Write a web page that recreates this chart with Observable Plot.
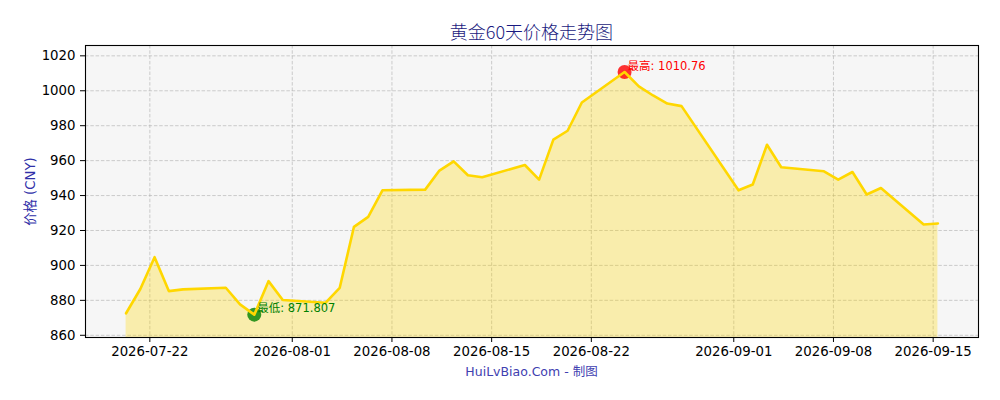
<!DOCTYPE html>
<html><head><meta charset="utf-8">
<script src="https://cdn.jsdelivr.net/npm/d3@7"></script>
<script src="https://cdn.jsdelivr.net/npm/@observablehq/plot@0.6"></script>
<style>
body{margin:0;background:#fff;font-family:"DejaVu Sans","Noto Sans CJK SC",sans-serif;}
#wrap{width:1000px;}
#title{height:40px;box-sizing:border-box;padding-top:19px;line-height:24px;margin-left:85px;width:893px;text-align:center;font-family:"Noto Sans CJK SC",sans-serif;font-size:18px;font-weight:300;color:#1a1a80;white-space:nowrap;}
#caption{height:20px;line-height:20px;margin-left:85px;width:893px;text-align:center;font-size:12.5px;color:#4040b0;font-family:"DejaVu Sans","Noto Sans CJK SC",sans-serif;white-space:nowrap;}
[aria-label="y-axis label"] text{fill:#3030a8;}
</style></head><body>
<div id="wrap"><div id="title">黄金60天价格走势图</div><div id="chart"></div><div id="caption">HuiLvBiao.Com - 制图</div></div>
<script>
const dates = ["2026-07-20","2026-07-21","2026-07-22","2026-07-23","2026-07-24","2026-07-27","2026-07-28","2026-07-29","2026-07-30","2026-07-31",
"2026-08-03","2026-08-04","2026-08-05","2026-08-06","2026-08-07","2026-08-10","2026-08-11","2026-08-12","2026-08-13","2026-08-14",
"2026-08-17","2026-08-18","2026-08-19","2026-08-20","2026-08-21","2026-08-24","2026-08-25","2026-08-26","2026-08-27","2026-08-28",
"2026-09-01","2026-09-02","2026-09-03","2026-09-04","2026-09-07","2026-09-08","2026-09-09","2026-09-10","2026-09-11","2026-09-14","2026-09-15"];
const prices = [872.6,886.5,904.7,885.3,886.3,887.2,877.7,871.807,891.0,880.2,
878.6,887.2,922.1,927.8,943.0,943.4,954.3,959.6,951.6,950.5,
957.5,949.1,972.0,977.1,993.3,1010.76,1002.5,997.3,992.7,991.2,
943.0,946.3,969.1,956.2,953.9,949.1,953.5,940.6,944.3,923.4,924.0];
const xTickLabels = ["2026-07-22","2026-08-01","2026-08-08","2026-08-15","2026-08-22","2026-09-01","2026-09-08","2026-09-15"];
const yTicks = [860,880,900,920,940,960,980,1000,1020];
const yLabel = "价格 (CNY)";
const maxPrefix = "最高: ";
const minPrefix = "最低: ";

const data = dates.map((d,i)=>({date:new Date(d+"T08:00:00Z"), price:prices[i]}));
const xTicks = xTickLabels.map(s=>new Date(s+"T00:00:00Z"));
const t0 = data[0].date.getTime(), t1 = data[data.length-1].date.getTime();
const pad = 0.05*(t1-t0);
const xDomain = [new Date(t0-pad), new Date(t1+pad)];
const maxPt = data.reduce((a,b)=>b.price>a.price?b:a);
const minPt = data.reduce((a,b)=>b.price<a.price?b:a);
const yDomain = [minPt.price*0.985, maxPt.price*1.015];
const labelFont = "DejaVu Sans, Noto Sans CJK SC, sans-serif";
const gridStyle = {stroke:"#a8a8a8", strokeOpacity:0.7, strokeWidth:0.8, strokeDasharray:"3.5,1.8"};

const chart = Plot.plot({
  width:1000, height:322,
  marginTop:5, marginBottom:25, marginLeft:85, marginRight:22,
  style:{fontFamily:labelFont, fontSize:"13.3px", color:"black", background:"white", overflow:"visible"},
  x:{type:"utc", domain:xDomain},
  y:{domain:yDomain},
  marks:[
    Plot.frame({fill:"#f6f6f6"}),
    Plot.gridX(xTicks, gridStyle),
    Plot.gridY(yTicks, gridStyle),
    Plot.areaY(data,{x:"date", y1:yDomain[0], y2:"price", fill:"#FFD700", fillOpacity:0.3}),
    Plot.dot([maxPt],{x:"date", y:"price", r:7, fill:"red", fillOpacity:0.8}),
    Plot.dot([minPt],{x:"date", y:"price", r:7, fill:"green", fillOpacity:0.8}),
    Plot.line(data,{x:"date", y:"price", stroke:"#FFD700", strokeWidth:2.6}),
    Plot.text([maxPt],{x:"date", y:"price", text:d=>maxPrefix+d.price, dx:3, dy:-6, textAnchor:"start", lineAnchor:"middle", fill:"red", fontSize:11.5, fontFamily:labelFont}),
    Plot.text([minPt],{x:"date", y:"price", text:d=>minPrefix+d.price, dx:3, dy:-6, textAnchor:"start", lineAnchor:"middle", fill:"green", fontSize:11.5, fontFamily:labelFont}),
    Plot.axisX({ticks:xTicks, tickFormat:d3.utcFormat("%Y-%m-%d"), tickSize:5, tickPadding:4, label:null, fontSize:13.3, fontFamily:labelFont}),
    Plot.axisY({ticks:yTicks, tickFormat:d=>String(d), tickSize:5, tickPadding:5, label:yLabel, labelAnchor:"center", labelArrow:"none", labelOffset:60, fontSize:13.3, fontFamily:labelFont}),
    Plot.frame({stroke:"black", strokeWidth:1.1})
  ]
});
document.getElementById("chart").appendChild(chart);
</script>
</body></html>
